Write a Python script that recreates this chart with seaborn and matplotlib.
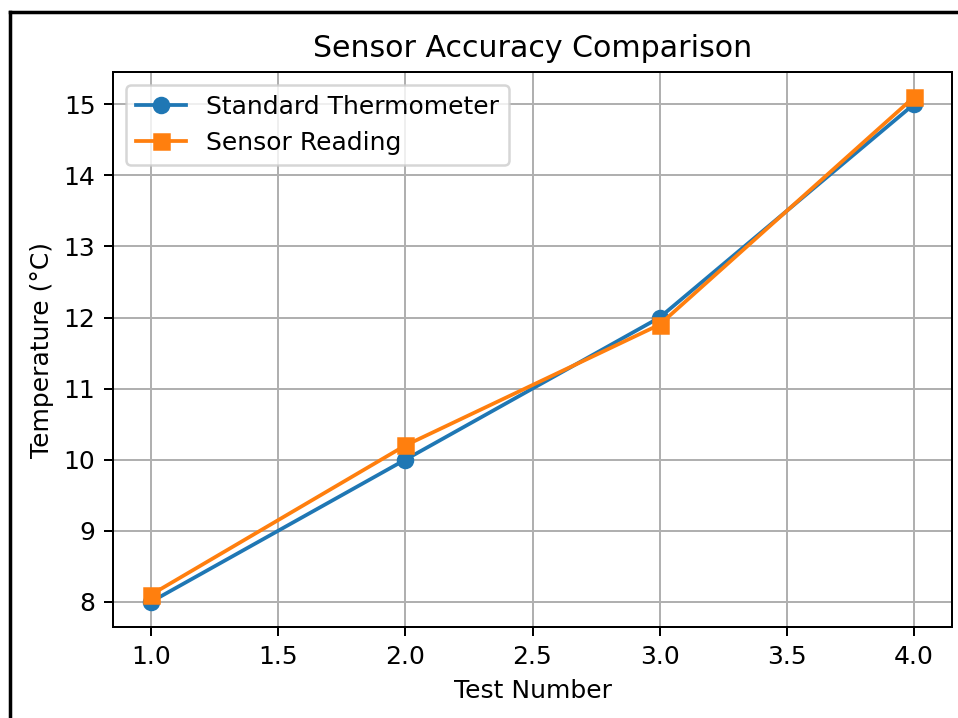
import numpy as np
import pandas as pd
import matplotlib
matplotlib.use("Agg")
import matplotlib.pyplot as plt
import seaborn as sns
from matplotlib.lines import Line2D

# datos
test_number = [1, 2, 3, 4]
standard = [8.0, 10.0, 12.0, 15.0]
sensor = [8.1, 10.2, 11.9, 15.1]

DPI = 180
fig = plt.figure(figsize=(958 / DPI, 718 / DPI), dpi=DPI)
ax = fig.add_axes([113 / 958, 1 - 627 / 718, (952 - 113) / 958, (627 - 72) / 718])

sns.lineplot(x=test_number, y=standard, marker="o", color="C0", mec="C0", mew=1,
             label="Standard Thermometer", ax=ax)
sns.lineplot(x=test_number, y=sensor, marker="s", color="C1", mec="C1", mew=1,
             label="Sensor Reading", ax=ax)

ax.set_title("Sensor Accuracy Comparison")
ax.set_xlabel("Test Number")
ax.set_ylabel("Temperature (°C)")
ax.grid(True)
ax.legend(loc="upper left")

# borde de la captura (solo izquierda y arriba)
fig.add_artist(Line2D([10 / 958, 10 / 958], [0, 1 - 12 / 718], color="black", lw=1.4,
                      transform=fig.transFigure))
fig.add_artist(Line2D([10 / 958, 1], [1 - 12 / 718, 1 - 12 / 718], color="black", lw=1.4,
                      transform=fig.transFigure))

fig.savefig("out.png", dpi=DPI)
